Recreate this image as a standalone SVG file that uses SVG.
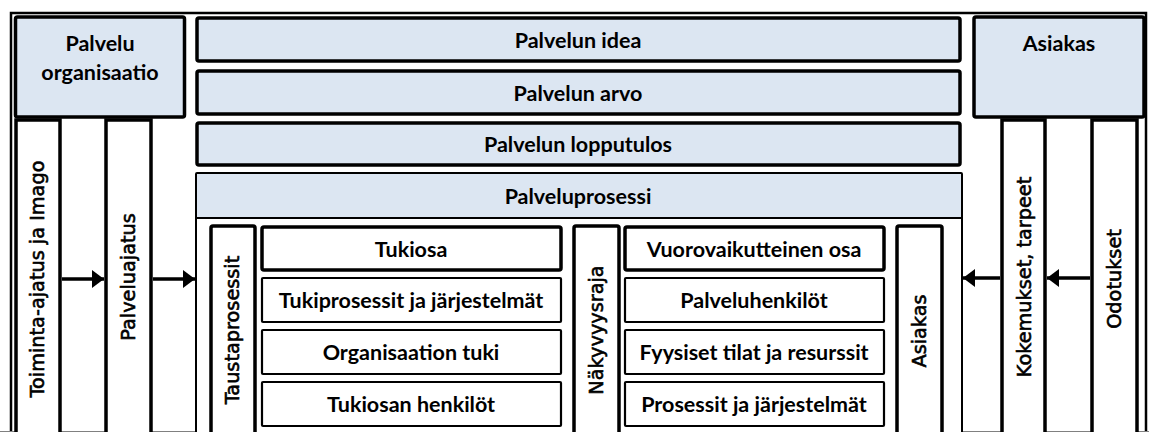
<svg xmlns="http://www.w3.org/2000/svg" width="1149" height="432" viewBox="0 0 1149 432">
<style>
.bg{fill:#ffffff}
.blue{fill:#dce6f2;stroke:#000;stroke-width:3.5}
.hdr{fill:#dce6f2;stroke:#000;stroke-width:2}
.col{fill:#ffffff;stroke:#000;stroke-width:3.5}
.box{fill:#ffffff;stroke:#000;stroke-width:2.2}
.boxb{fill:#ffffff;stroke:#000;stroke-width:3.5}
.cont{fill:#ffffff;stroke:#000;stroke-width:2}
.frame{fill:none;stroke:#000;stroke-width:2.5}
.t{font-family:Lato,"Liberation Sans",sans-serif;font-weight:bold;font-size:21.5px;fill:#000;text-anchor:middle;dominant-baseline:central}
.v{font-family:"DejaVu Sans","Liberation Sans",sans-serif;font-size:19.3px;fill:#000;stroke:#000;stroke-width:0.6;text-anchor:middle;dominant-baseline:central}
.conn{stroke:#000;stroke-width:3.5;fill:none}
</style>
<defs>
<marker id="ah" viewBox="0 0 12 18" refX="12" refY="9" markerWidth="12" markerHeight="18" markerUnits="userSpaceOnUse" orient="auto">
<path d="M0,0 L12,9 L0,18 Z" fill="#000"/>
</marker>
</defs>
<rect class="bg" x="0" y="0" width="1149" height="432"/>
<path class="frame" d="M11,440 L11,13 L1146,13 L1146,440"/>
<line x1="0" y1="431.5" x2="1149" y2="431.5" stroke="#808080" stroke-width="1"/>

<g id="palvelu-organisaatio">
<rect class="blue" x="15.5" y="17" width="169" height="100" rx="2"/>
<text class="t" x="100" y="43">Palvelu</text>
<text class="t" x="100" y="72">organisaatio</text>
</g>
<g id="toiminta-ajatus">
<rect class="col" x="16" y="120" width="44" height="330"/>
<text class="v" transform="translate(37,279) rotate(-90)">Toiminta-ajatus ja Imago</text>
</g>
<g id="palveluajatus">
<rect class="col" x="106" y="120" width="45" height="330"/>
<text class="v" transform="translate(128,277) rotate(-90)">Palveluajatus</text>
</g>

<g id="asiakas-top">
<rect class="blue" x="974" y="17" width="170" height="100" rx="2"/>
<text class="t" x="1059" y="43">Asiakas</text>
</g>
<g id="kokemukset">
<rect class="col" x="1002" y="120" width="43" height="330"/>
<text class="v" transform="translate(1024,277) rotate(-90)">Kokemukset, tarpeet</text>
</g>
<g id="odotukset">
<rect class="col" x="1092" y="120" width="45" height="330"/>
<text class="v" transform="translate(1114,279) rotate(-90)">Odotukset</text>
</g>

<g id="palvelun-idea">
<rect class="blue" x="197" y="18" width="763" height="43" rx="2"/>
<text class="t" x="578" y="40">Palvelun idea</text>
</g>
<g id="palvelun-arvo">
<rect class="blue" x="197" y="71" width="763" height="43" rx="2"/>
<text class="t" x="578" y="93">Palvelun arvo</text>
</g>
<g id="palvelun-lopputulos">
<rect class="blue" x="197" y="123" width="763" height="42" rx="2"/>
<text class="t" x="578" y="144">Palvelun lopputulos</text>
</g>
<g id="palveluprosessi">
<rect class="cont" x="196" y="218" width="766" height="230"/>
<rect class="hdr" x="196" y="173" width="766" height="45" rx="1"/>
<text class="t" x="578" y="196">Palveluprosessi</text>
</g>

<g id="taustaprosessit">
<rect class="col" x="211" y="226" width="44" height="220" rx="2"/>
<text class="v" transform="translate(232,330) rotate(-90)">Taustaprosessit</text>
</g>
<g id="tukiosa">
<rect class="boxb" x="262" y="227" width="299" height="43" rx="2"/>
<text class="t" x="411" y="249">Tukiosa</text>
</g>
<g id="tukiprosessit">
<rect class="box" x="262" y="278" width="299" height="44" rx="1"/>
<text class="t" x="411" y="300">Tukiprosessit ja järjestelmät</text>
</g>
<g id="organisaation-tuki">
<rect class="box" x="262" y="330" width="299" height="44" rx="1"/>
<text class="t" x="411" y="352">Organisaation tuki</text>
</g>
<g id="tukiosan-henkilot">
<rect class="box" x="262" y="382" width="299" height="44" rx="1"/>
<text class="t" x="411" y="404">Tukiosan henkilöt</text>
</g>

<g id="nakyvyysraja">
<rect class="col" x="574" y="226" width="45" height="220" rx="2"/>
<text class="v" transform="translate(596,330) rotate(-90)">Näkyvyysraja</text>
</g>
<g id="vuorovaikutteinen">
<rect class="boxb" x="625" y="227" width="259" height="43" rx="2"/>
<text class="t" x="754" y="249">Vuorovaikutteinen osa</text>
</g>
<g id="palveluhenkilot">
<rect class="box" x="625" y="278" width="259" height="44" rx="1"/>
<text class="t" x="754" y="300">Palveluhenkilöt</text>
</g>
<g id="fyysiset">
<rect class="box" x="625" y="330" width="259" height="44" rx="1"/>
<text class="t" x="754" y="352">Fyysiset tilat ja resurssit</text>
</g>
<g id="prosessit">
<rect class="box" x="625" y="382" width="259" height="44" rx="1"/>
<text class="t" x="754" y="404">Prosessit ja järjestelmät</text>
</g>
<g id="asiakas-inner">
<rect class="col" x="897" y="226" width="45" height="220" rx="2"/>
<text class="v" transform="translate(919,331) rotate(-90)">Asiakas</text>
</g>

<g id="connectors">
<line class="conn" x1="62" y1="279" x2="104" y2="279" marker-end="url(#ah)"/>
<line class="conn" x1="153" y1="279" x2="195" y2="279" marker-end="url(#ah)"/>
<line class="conn" x1="1000" y1="278" x2="963" y2="278" marker-end="url(#ah)"/>
<line class="conn" x1="1090" y1="278" x2="1047" y2="278" marker-end="url(#ah)"/>
</g>
</svg>
